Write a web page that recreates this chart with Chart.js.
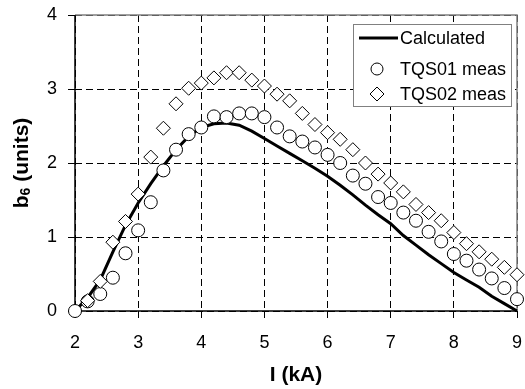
<!DOCTYPE html>
<html lang="en">
<head>
    <meta charset="UTF-8">
    <title>b6 vs I</title>
    <script src="https://cdn.jsdelivr.net/npm/chart.js"></script>
    <style>
        html, body {
            margin: 0;
            padding: 0;
            background: #fff;
        }
    </style>
</head>
<body>
    <canvas id="b6Chart" width="525" height="389"></canvas>

    <script>
        // currents (kA), step 0.2
        const calcI = [2.0, 2.2, 2.4, 2.6, 2.8, 3.0, 3.2, 3.4, 3.6, 3.8, 4.0, 4.2, 4.4, 4.6, 4.8, 5.0, 5.2, 5.4,
                       5.6, 5.8, 6.0, 6.2, 6.4, 6.6, 6.8, 7.0, 7.2, 7.4, 7.6, 7.8, 8.0, 8.2, 8.4, 8.6, 8.8, 9.0];
        const calcB6 = [0.00, 0.18, 0.42, 0.80, 1.16, 1.46, 1.72, 1.96, 2.18, 2.36, 2.48, 2.53, 2.54, 2.51, 2.43, 2.33, 2.23, 2.13,
                        2.03, 1.93, 1.82, 1.70, 1.57, 1.43, 1.30, 1.18, 1.02, 0.89, 0.76, 0.64, 0.52, 0.42, 0.32, 0.20, 0.10, 0.00];

        const tqs01I = [2.0, 2.2, 2.4, 2.6, 2.8, 3.0, 3.2, 3.4, 3.6, 3.8, 4.0, 4.2, 4.4, 4.6, 4.8, 5.0, 5.2, 5.4,
                        5.6, 5.8, 6.0, 6.2, 6.4, 6.6, 6.8, 7.0, 7.2, 7.4, 7.6, 7.8, 8.0, 8.2, 8.4, 8.6, 8.8, 9.0];
        const tqs01B6 = [0.00, 0.13, 0.23, 0.45, 0.78, 1.09, 1.47, 1.90, 2.18, 2.39, 2.48, 2.63, 2.62, 2.67, 2.67, 2.62, 2.48, 2.36,
                         2.29, 2.21, 2.11, 2.00, 1.83, 1.72, 1.54, 1.46, 1.33, 1.22, 1.07, 0.94, 0.77, 0.68, 0.56, 0.44, 0.31, 0.16];

        const tqs02I = [2.2, 2.4, 2.6, 2.8, 3.0, 3.2, 3.4, 3.6, 3.8, 4.0, 4.2, 4.4, 4.6, 4.8, 5.0, 5.2, 5.4,
                        5.6, 5.8, 6.0, 6.2, 6.4, 6.6, 6.8, 7.0, 7.2, 7.4, 7.6, 7.8, 8.0, 8.2, 8.4, 8.6, 8.8, 9.0];
        const tqs02B6 = [0.14, 0.40, 0.93, 1.21, 1.58, 2.08, 2.47, 2.80, 3.01, 3.08, 3.15, 3.22, 3.22, 3.12, 3.04, 2.93, 2.84,
                         2.67, 2.52, 2.41, 2.32, 2.18, 2.00, 1.85, 1.73, 1.61, 1.44, 1.33, 1.22, 1.06, 0.91, 0.80, 0.70, 0.59, 0.49];

        const xTicks = [2, 3, 4, 5, 6, 7, 8, 9];
        const yTicks = [0, 1, 2, 3, 4];

        const FONT = "'Liberation Sans', Arial, sans-serif";

        function toPoints(xs, ys) {
            return xs.map((x, i) => ({ x: x, y: ys[i] }));
        }

        // gray frame on top/right of the plot area, black axes left/bottom
        const framePlugin = {
            id: 'frame',
            beforeDatasetsDraw(chart) {
                const a = chart.chartArea;
                const c = chart.ctx;
                c.save();
                c.strokeStyle = '#808080';
                c.lineWidth = 1.5;
                c.beginPath();
                c.moveTo(a.left, a.top);
                c.lineTo(a.right, a.top);
                c.lineTo(a.right, a.bottom);
                c.stroke();
                c.strokeStyle = '#000';
                c.beginPath();
                c.moveTo(a.left, a.top);
                c.lineTo(a.left, a.bottom);
                c.lineTo(a.right, a.bottom);
                c.stroke();
                c.restore();
            }
        };

        // y title with a real subscript
        const yTitlePlugin = {
            id: 'yTitle',
            afterDraw(chart) {
                const a = chart.chartArea;
                const c = chart.ctx;
                c.save();
                c.translate(22, (a.top + a.bottom) / 2);
                c.rotate(-Math.PI / 2);
                c.fillStyle = '#000';
                c.textBaseline = 'middle';
                const big = 'bold 21px ' + FONT;
                const small = 'bold 14px ' + FONT;
                c.font = big;
                const wb = c.measureText('b').width;
                const wr = c.measureText(' (units)').width;
                c.font = small;
                const ws = c.measureText('6').width;
                let x = -(wb + ws + wr) / 2;
                c.font = big;
                c.fillText('b', x, 0);
                x += wb;
                c.font = small;
                c.fillText('6', x, 4);
                x += ws;
                c.font = big;
                c.fillText(' (units)', x, 0);
                c.restore();
            }
        };

        // legend box inside the plot area
        const legendPlugin = {
            id: 'boxLegend',
            afterDatasetsDraw(chart) {
                const a = chart.chartArea;
                const c = chart.ctx;
                const w = 158, h = 82;
                const x0 = a.right - 6 - w, y0 = a.top + 9;
                c.save();
                c.fillStyle = '#fff';
                c.fillRect(x0, y0, w, h);
                c.strokeStyle = '#808080';
                c.lineWidth = 1;
                c.strokeRect(x0 + 0.5, y0 + 0.5, w, h);
                c.font = '18px ' + FONT;
                c.textBaseline = 'middle';
                c.fillStyle = '#000';
                const rows = [y0 + 14, y0 + 45, y0 + 70];
                // line sample
                c.strokeStyle = '#000';
                c.lineWidth = 3;
                c.beginPath();
                c.moveTo(x0 + 6, rows[0]);
                c.lineTo(x0 + 45, rows[0]);
                c.stroke();
                // circle
                c.lineWidth = 1;
                c.beginPath();
                c.arc(x0 + 24, rows[1], 6, 0, Math.PI * 2);
                c.stroke();
                // diamond
                c.beginPath();
                c.moveTo(x0 + 24, rows[2] - 7);
                c.lineTo(x0 + 31, rows[2]);
                c.lineTo(x0 + 24, rows[2] + 7);
                c.lineTo(x0 + 17, rows[2]);
                c.closePath();
                c.stroke();
                const labels = chart.data.datasets.map(d => d.label);
                labels.forEach((t, i) => c.fillText(t, x0 + 47, rows[i] + 1));
                c.restore();
            }
        };

        const ctx = document.getElementById('b6Chart').getContext('2d');
        const chart = new Chart(ctx, {
            type: 'scatter',
            data: {
                datasets: [{
                    label: 'Calculated',
                    data: toPoints(calcI, calcB6),
                    showLine: true,
                    borderColor: '#000',
                    borderWidth: 3,
                    pointRadius: 0,
                    tension: 0,
                    order: 3,
                    clip: false
                }, {
                    label: 'TQS01 meas',
                    data: toPoints(tqs01I, tqs01B6),
                    pointStyle: 'circle',
                    pointRadius: 6.5,
                    borderColor: '#000',
                    backgroundColor: '#fff',
                    borderWidth: 1,
                    order: 2,
                    clip: false
                }, {
                    label: 'TQS02 meas',
                    data: toPoints(tqs02I, tqs02B6),
                    pointStyle: 'rectRot',
                    pointRadius: 7,
                    borderColor: '#000',
                    backgroundColor: '#fff',
                    borderWidth: 1,
                    order: 1,
                    clip: false
                }]
            },
            options: {
                responsive: false,
                animation: false,
                devicePixelRatio: 1,
                layout: { padding: { top: 15, right: 8, left: 0, bottom: 0 } },
                plugins: {
                    legend: { display: false },
                    tooltip: { enabled: false }
                },
                scales: {
                    x: {
                        type: 'linear',
                        min: 2,
                        max: 9,
                        afterBuildTicks: s => { s.ticks = xTicks.map(v => ({ value: v })); },
                        afterFit: s => {
                            s.height = 78;
                            s.paddingLeft = 0;
                            s.paddingRight = 0;
                        },
                        ticks: {
                            color: '#000',
                            font: { family: FONT, size: 18 },
                            padding: 14
                        },
                        grid: {
                            color: '#000',
                            lineWidth: 1,
                            tickLength: 7
                        },
                        border: { display: false, dash: [7, 4] },
                        title: {
                            display: true,
                            text: 'I (kA)',
                            color: '#000',
                            font: { family: FONT, size: 21, weight: 'bold' },
                            padding: { top: 0, bottom: 1 }
                        }
                    },
                    y: {
                        type: 'linear',
                        min: 0,
                        max: 4,
                        afterBuildTicks: s => { s.ticks = yTicks.map(v => ({ value: v })); },
                        afterFit: s => {
                            s.width = 75;
                            s.paddingTop = 0;
                            s.paddingBottom = 0;
                        },
                        ticks: {
                            color: '#000',
                            font: { family: FONT, size: 18 },
                            padding: 11
                        },
                        grid: {
                            color: '#000',
                            lineWidth: 1,
                            tickLength: 7
                        },
                        border: { display: false, dash: [7, 4] }
                    }
                }
            },
            plugins: [framePlugin, legendPlugin, yTitlePlugin]
        });
    </script>
</body>
</html>
